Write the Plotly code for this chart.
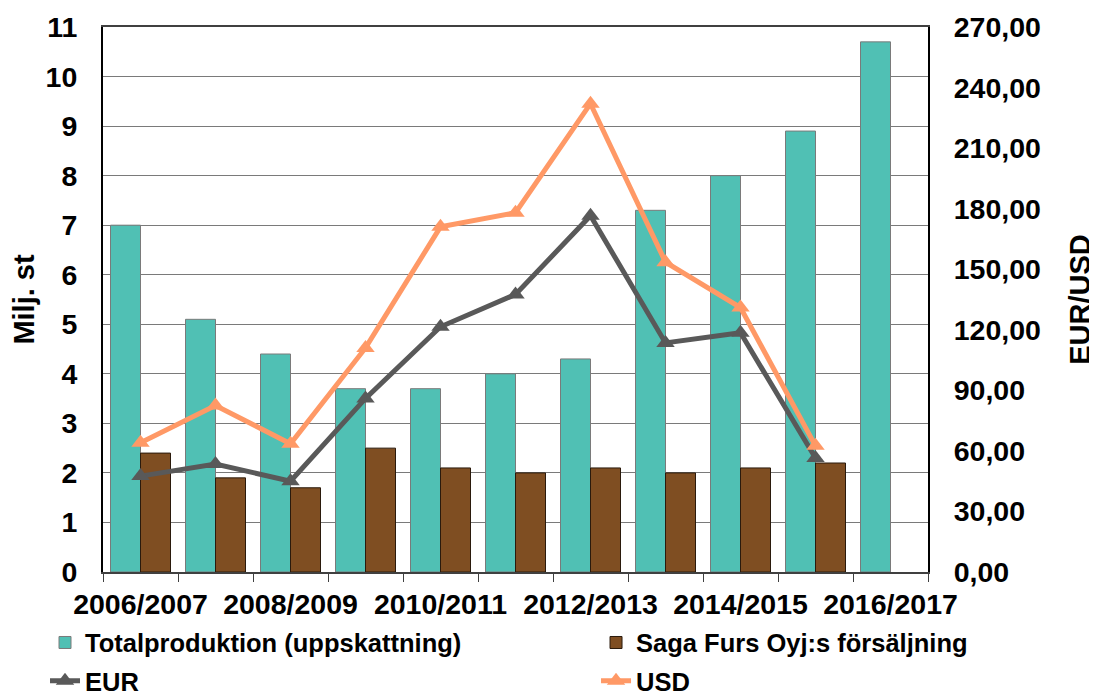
import plotly.graph_objects as go

categories = ["2006/2007", "2007/2008", "2008/2009", "2009/2010", "2010/2011", "2011/2012",
              "2012/2013", "2013/2014", "2014/2015", "2015/2016", "2016/2017"]
total_prod = [7.0, 5.1, 4.4, 3.7, 3.7, 4.0, 4.3, 7.3, 8.0, 8.9, 10.7]
saga_sales = [2.4, 1.9, 1.7, 2.5, 2.1, 2.0, 2.1, 2.0, 2.1, 2.2, None]
eur = [47.5, 53.5, 45.0, 86.0, 121.5, 137.5, 176.5, 113.5, 118.5, 56.5, None]
usd = [64.0, 82.5, 63.5, 111.0, 171.0, 178.0, 232.0, 153.5, 131.0, 62.5, None]
tick_labels = [c if i % 2 == 0 else "" for i, c in enumerate(categories)]

FONT = "Liberation Sans, Arial, sans-serif"
TICK = dict(family=FONT, size=28.5, color="black", weight="bold")
TITLE = dict(family=FONT, size=29, color="black", weight="bold")
LEG = dict(family=FONT, size=25.5, color="black", weight="bold")

fig = go.Figure()
fig.add_trace(go.Bar(x=categories, y=total_prod, name="Totalproduktion (uppskattning)",
                     marker=dict(color="#50C0B4", line=dict(color="#7a7a7a", width=1)),
                     legend="legend", legendgroup="a"))
fig.add_trace(go.Bar(x=categories, y=saga_sales, name="Saga Furs Oyj:s försäljning",
                     marker=dict(color="#7F4E22", line=dict(color="#2a1a0c", width=1)),
                     legend="legend2", legendgroup="b"))
fig.add_trace(go.Scatter(x=categories, y=eur, name="EUR", yaxis="y2", mode="lines+markers",
                         line=dict(color="#595959", width=5),
                         marker=dict(symbol="triangle-up", size=16, color="#595959"),
                         legend="legend", legendgroup="c"))
fig.add_trace(go.Scatter(x=categories, y=usd, name="USD", yaxis="y2", mode="lines+markers",
                         line=dict(color="#FF9966", width=5),
                         marker=dict(symbol="triangle-up", size=16, color="#FF9966"),
                         legend="legend2", legendgroup="d"))

fig.update_layout(
    width=1089, height=689,
    margin=dict(l=95, r=169, t=19, b=125, autoexpand=False),
    paper_bgcolor="white", plot_bgcolor="white",
    separators=",.",
    barmode="group", bargap=0.2, bargroupgap=0,
    font=TICK,
    showlegend=True,
    legend=dict(x=-0.0703, y=-0.087, xanchor="left", yanchor="top", orientation="v",
                font=LEG, tracegroupgap=2, bgcolor="rgba(0,0,0,0)"),
    legend2=dict(x=0.5976, y=-0.087, xanchor="left", yanchor="top", orientation="v",
                 font=LEG, tracegroupgap=2, bgcolor="rgba(0,0,0,0)"),
    xaxis=dict(type="category", range=[-0.5, len(categories) - 0.5],
               tickmode="array", tickvals=categories, ticktext=tick_labels,
               tickson="boundaries", ticks="outside", ticklen=8, tickcolor="#404040",
               showline=True, linecolor="#404040", linewidth=2, mirror=True,
               showgrid=False, tickfont=TICK, tickangle=0, ticklabelstandoff=6,
               automargin=False),
    yaxis=dict(range=[0, 11], dtick=1, showgrid=True, gridcolor="#7a7a7a", gridwidth=1,
               showline=True, linecolor="black", linewidth=2, ticks="",
               tickfont=TICK, ticklabelstandoff=18, zeroline=False, automargin=False,
               title=dict(text="Milj. st", font=TITLE, standoff=5)),
    yaxis2=dict(range=[0, 270], dtick=30, tickformat=".2f", overlaying="y", side="right",
                showgrid=False, showline=True, linecolor="black", linewidth=2, ticks="",
                tickfont=TICK, ticklabelstandoff=18, zeroline=False, automargin=False,
                title=dict(text="EUR/USD", font=TITLE, standoff=30)),
)

fig.write_html("out.html")
